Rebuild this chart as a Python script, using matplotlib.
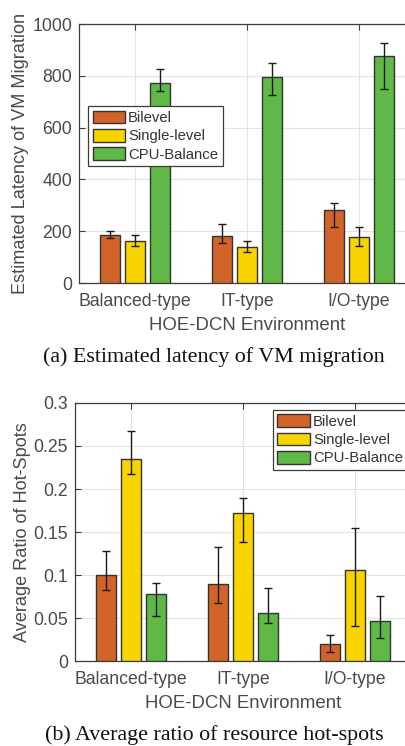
import numpy as np
import matplotlib
matplotlib.use("Agg")
from matplotlib import pyplot as plt

envs = ["Balanced-type", "IT-type", "I/O-type"]
methods = ["Bilevel", "Single-level", "CPU-Balance"]
colors = ["#D2642A", "#F8D500", "#60B946"]

# (a) estimated latency of VM migration
lat_mean = [[185, 180, 283], [161, 141, 179], [771, 794, 875]]
lat_low = [[173, 155, 216], [143, 121, 143], [742, 727, 749]]
lat_high = [[200, 227, 308], [185, 162, 215], [826, 848, 928]]

# (b) average ratio of hot-spots
hot_mean = [[0.100, 0.090, 0.020], [0.235, 0.172, 0.106], [0.078, 0.056, 0.047]]
hot_low = [[0.082, 0.068, 0.010], [0.217, 0.138, 0.041], [0.052, 0.044, 0.027]]
hot_high = [[0.128, 0.133, 0.030], [0.267, 0.190, 0.155], [0.091, 0.085, 0.076]]

plt.rcParams['font.family'] = ['Liberation Sans', 'DejaVu Sans']
txt = "#4a4a4a"
spine = "#3c3c3c"

fig = plt.figure(figsize=(4.06, 7.46), dpi=100)
ax1 = fig.add_axes([0.1946, 0.6206, 1.022 - 0.1946, 0.9678 - 0.6206])
ax2 = fig.add_axes([0.1847, 0.1139, 1.012 - 0.1847, 0.4598 - 0.1139])


def draw(ax, mean, low, high, ylim, yticks, yticklabels, ylabel, leg_xy):
    x = np.arange(1, len(envs) + 1)
    width = 0.178
    step = 0.222
    for i in range(len(methods)):
        m = np.array(mean[i])
        lo = m - np.array(low[i])
        hi = np.array(high[i]) - m
        pos = x + (i - 1) * step
        ax.bar(pos, m, width, color=colors[i], edgecolor="#333333",
               linewidth=1.0, label=methods[i], zorder=3)
        ax.errorbar(pos, m, yerr=[lo, hi], fmt="none", ecolor="#1a1a1a",
                    elinewidth=1.0, capsize=3, capthick=1.0, zorder=4)
    ax.set_xlim(0.5, 3.5)
    ax.set_ylim(*ylim)
    ax.set_xticks(x)
    ax.set_xticklabels(envs)
    ax.set_yticks(yticks)
    ax.set_yticklabels(yticklabels)
    ax.grid(True, color="#e3e3e3", linewidth=0.8, zorder=0)
    ax.set_axisbelow(True)
    ax.tick_params(direction="in", length=4, color=spine, labelcolor=txt,
                   labelsize=12.7, top=True, right=True)
    ax.tick_params(axis="x", pad=7)
    ax.tick_params(axis="y", pad=5)
    for s in ax.spines.values():
        s.set_color(spine)
        s.set_linewidth(0.9)
    ax.set_xlabel("HOE-DCN Environment", fontsize=13.4, color=txt, labelpad=5)
    ax.set_ylabel(ylabel, fontsize=13.1, color=txt, labelpad=2)
    leg = ax.legend(loc="upper left", bbox_to_anchor=leg_xy, borderaxespad=0,
                    fontsize=10.7, fancybox=False, framealpha=1,
                    edgecolor=spine, handlelength=2.2, handleheight=0.95,
                    handletextpad=0.2, borderpad=0.3, labelspacing=0.25,
                    labelcolor="#333333")
    leg.get_frame().set_linewidth(0.9)
    leg.set_zorder(5)


draw(ax1, lat_mean, lat_low, lat_high, (0, 1000), [0, 200, 400, 600, 800, 1000],
     ["0", "200", "400", "600", "800", "1000"],
     "Estimated Latency of VM Migration", (0.027, 0.683))
draw(ax2, hot_mean, hot_low, hot_high, (0, 0.3),
     [0, 0.05, 0.1, 0.15, 0.2, 0.25, 0.3],
     ["0", "0.05", "0.1", "0.15", "0.2", "0.25", "0.3"],
     "Average Ratio of Hot-Spots", (0.589, 0.973))

fig.text(214 / 406, 1 - 357 / 746, "(a) Estimated latency of VM migration",
         family="Liberation Serif", fontsize=15.8, ha="center", va="center",
         color="#111111")
fig.text(214 / 406, 1 - 735 / 746, "(b) Average ratio of resource hot-spots",
         family="Liberation Serif", fontsize=15.8, ha="center", va="center",
         color="#111111")

plt.savefig("out.png", dpi=100)
